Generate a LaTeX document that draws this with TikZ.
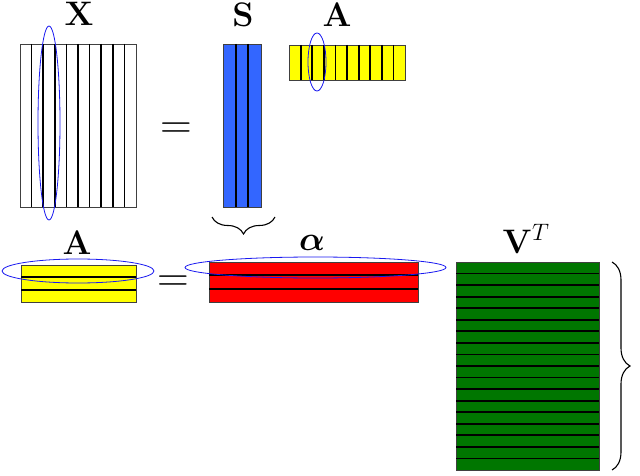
\RequirePackage{fix-cm}
\documentclass[tikz,border=0pt]{standalone}
\usepackage{amsmath,amssymb,bm}
\usepackage{xcolor}
\usepackage{tikz}
\usetikzlibrary{calc,decorations.pathreplacing}
\definecolor{sblue}{RGB}{51,102,255}
\definecolor{ayellow}{RGB}{255,255,0}
\definecolor{alred}{RGB}{255,0,0}
\definecolor{vgreen}{RGB}{0,118,0}
\definecolor{selblue}{RGB}{25,25,240}

\begin{document}
\begin{tikzpicture}[x=1pt,y=-1pt]
\useasboundingbox (0,0) rectangle (640,476);
\tikzset{mat/.style={draw=black!75,line width=0.8pt,inner sep=0pt,outer sep=0pt}}
\tikzset{sep/.style={black,line width=1.8pt}}
\tikzset{sel/.style={selblue,line width=0.8pt}}
\tikzset{brc/.style={decorate,decoration={brace,amplitude=#1},line width=1.1pt}}
\tikzset{lbl/.style={anchor=base,inner sep=0pt,font=\fontsize{34}{40}\selectfont}}
\tikzset{eqsign/.style={font=\fontsize{44}{50}\selectfont}}
% matrices
\node[mat,fill=white,minimum width=116pt,minimum height=163pt] (X) at (78,125.5) {};
\node[mat,fill=sblue,minimum width=38pt,minimum height=163pt] (S) at (242,125.5) {};
\node[mat,fill=ayellow,minimum width=116pt,minimum height=35pt] (Atop) at (347,62.5) {};
\node[mat,fill=ayellow,minimum width=115pt,minimum height=37pt] (Abot) at (78.5,283.5) {};
\node[mat,fill=alred,minimum width=209pt,minimum height=40pt] (alpha) at (313.5,282) {};
\node[mat,fill=vgreen,minimum width=143pt,minimum height=208pt] (VT) at (527.5,366) {};
% column separators
\foreach \i in {1,...,9} {
  \draw[sep] ($(X.north west)!\i/10!(X.north east)$) -- ($(X.south west)!\i/10!(X.south east)$);
  \draw[sep] ($(Atop.north west)!\i/10!(Atop.north east)$) -- ($(Atop.south west)!\i/10!(Atop.south east)$);
}
\foreach \i in {1,2} {
  \draw[sep] ($(S.north west)!\i/3!(S.north east)$) -- ($(S.south west)!\i/3!(S.south east)$);
}
% row separators
\foreach \i in {1,2} {
  \draw[sep] ($(Abot.north west)!\i/3!(Abot.south west)$) -- ($(Abot.north east)!\i/3!(Abot.south east)$);
  \draw[sep] ($(alpha.north west)!\i/3!(alpha.south west)$) -- ($(alpha.north east)!\i/3!(alpha.south east)$);
}
\foreach \i in {1,...,17} {
  \draw[sep] ($(VT.north west)!\i/18!(VT.south west)$) -- ($(VT.north east)!\i/18!(VT.south east)$);
}
% labels
\node[lbl] (labX) at (79,26) {$\mathbf{X}$};
\node[lbl] (labS) at (243,27) {$\mathbf{S}$};
\node[lbl] (labAtop) at (337,27) {$\mathbf{A}$};
\node[lbl] (labAbot) at (77,254) {$\mathbf{A}$};
\node[lbl] (labalpha) at (312,250) {$\bm{\alpha}$};
\node[lbl] (labVT) at (526,253) {$\mathbf{V}^T$};
\node[eqsign] (eq1) at (176,131) {$=$};
\node[eqsign] (eq2) at (173,284) {$=$};
% selections
\draw[sel] (49,123) ellipse [x radius=11, y radius=97];
\draw[sel] (317,62) ellipse [x radius=9, y radius=29];
\draw[sel] (78,271) ellipse [x radius=76, y radius=12];
\draw[sel] (315.5,267.5) ellipse [x radius=130.5, y radius=10.5];
% braces
\coordinate (brSl) at (212,217);
\coordinate (brSr) at (275,217);
\coordinate (brVt) at (612,262);
\coordinate (brVb) at (612,470);
\draw[brc=17pt,decoration={mirror}] (brSl) -- (brSr);
\draw[brc=18pt] (brVt) -- (brVb);
\end{tikzpicture}
\end{document}
